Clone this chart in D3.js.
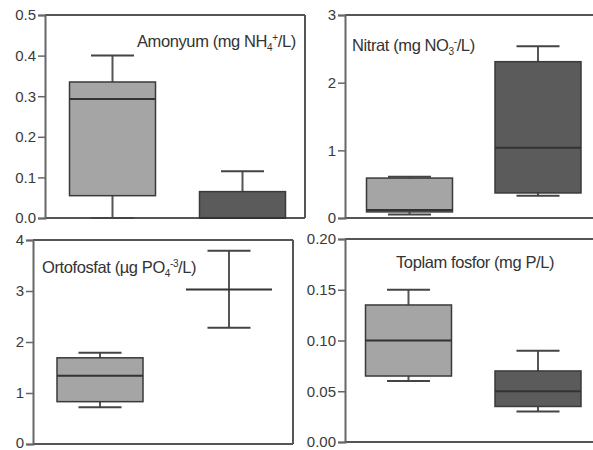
<!DOCTYPE html>
<html>
<head>
<meta charset="utf-8" />
<title>Box plots | D3</title>
<style>
body { margin: 0; background: white; }
svg text { font-family: "Liberation Sans", Arial, sans-serif; }
.tick text { font-size: 15px; fill: #3a3a3a; }
.title { font-size: 16.5px; fill: #333; letter-spacing: -0.4px; }
</style>
<script src="https://d3js.org/d3.v7.min.js"></script>
</head>
<body>
<script>
// two groups per panel, values are [min, q1, median, q3, max]
var groups = ["g1", "g2"];
var groupColors = ["#a5a5a5", "#5b5b5b"];

var amonyum = [[0, 0.055, 0.293, 0.335, 0.40], [0, 0, 0, 0.065, 0.115]];
var nitrat = [[0.05, 0.09, 0.12, 0.59, 0.61], [0.33, 0.37, 1.04, 2.31, 2.54]];
var ortofosfat = [[0.72, 0.83, 1.34, 1.69, 1.79], [2.28, 3.03, 3.03, 3.03, 3.79]];
var toplamFosfor = [[0.06, 0.065, 0.10, 0.135, 0.15], [0.03, 0.035, 0.05, 0.07, 0.09]];

var amonyumTicks = [0, 0.1, 0.2, 0.3, 0.4, 0.5];
var nitratTicks = [0, 1, 2, 3];
var ortofosfatTicks = [0, 1, 2, 3, 4];
var toplamTicks = [0, 0.05, 0.10, 0.15, 0.20];

var width = 593, height = 450;

var svg = d3.select("body").append("svg")
  .attr("width", width)
  .attr("height", height);

// panel layout
var panels = [
  { data: amonyum, ticks: amonyumTicks, fmt: ".1f", max: 0.5,
    left: 45, right: 305, top: 15, bottom: 218, c: [112.5, 242.5], frame: true,
    title: [["Amonyum (mg NH"], ["4", "sub"], ["+", "sup"], ["/L)"]], tx: 137, ty: 47 },
  { data: nitrat, ticks: nitratTicks, fmt: "d", max: 3,
    left: 345, right: 593, top: 15, bottom: 218, c: [409.5, 538], frame: false,
    title: [["Nitrat (mg NO"], ["3", "sub"], ["-", "sup"], ["/L)"]], tx: 352, ty: 51 },
  { data: ortofosfat, ticks: ortofosfatTicks, fmt: "d", max: 4,
    left: 33, right: 293, top: 240, bottom: 444, c: [100, 229], frame: true,
    title: [["Ortofosfat (\u00b5g PO"], ["4", "sub"], ["-3", "sup"], ["/L)"]], tx: 42, ty: 273 },
  { data: toplamFosfor, ticks: toplamTicks, fmt: ".2f", max: 0.2,
    left: 345, right: 593, top: 239, bottom: 442, c: [408.5, 538], frame: false,
    title: [["Toplam fosfor (mg P/L)"]], tx: 396, ty: 268 }
];

var boxW = 86, capW = 43;

panels.forEach(function(p) {
  var g = svg.append("g");

  var y = d3.scaleLinear().domain([0, p.max]).range([p.bottom, p.top]);
  var x = d3.scalePoint().domain(groups).range(p.c);

  // frame lines
  g.append("line").attr("x1", p.left).attr("x2", p.right)
    .attr("y1", p.top).attr("y2", p.top)
    .attr("stroke", "#555").attr("stroke-width", 2);
  g.append("line").attr("x1", p.left).attr("x2", p.right)
    .attr("y1", p.bottom).attr("y2", p.bottom)
    .attr("stroke", "#555").attr("stroke-width", 2);
  if (p.frame) {
    g.append("line").attr("x1", p.right).attr("x2", p.right)
      .attr("y1", p.top).attr("y2", p.bottom)
      .attr("stroke", "#555").attr("stroke-width", 2);
  }

  // boxes
  var b = g.selectAll(".box")
    .data(p.data)
    .enter().append("g").attr("class", "box");

  b.append("line")
    .attr("x1", function(d, i) { return x(groups[i]); })
    .attr("x2", function(d, i) { return x(groups[i]); })
    .attr("y1", function(d) { return y(d[4]); })
    .attr("y2", function(d) { return y(d[0]); })
    .attr("stroke", "#555").attr("stroke-width", 2);

  b.selectAll(".cap")
    .data(function(d, i) { return [[d[0], i], [d[4], i]]; })
    .enter().append("line")
    .attr("x1", function(d) { return x(groups[d[1]]) - capW / 2; })
    .attr("x2", function(d) { return x(groups[d[1]]) + capW / 2; })
    .attr("y1", function(d) { return y(d[0]); })
    .attr("y2", function(d) { return y(d[0]); })
    .attr("stroke", "#444").attr("stroke-width", 2);

  b.append("rect")
    .attr("x", function(d, i) { return x(groups[i]) - boxW / 2; })
    .attr("width", boxW)
    .attr("y", function(d) { return y(d[3]); })
    .attr("height", function(d) { return y(d[1]) - y(d[3]); })
    .attr("fill", function(d, i) { return groupColors[i]; })
    .attr("stroke", "#3a3a3a").attr("stroke-width", 1.5);

  b.append("line")
    .attr("x1", function(d, i) { return x(groups[i]) - boxW / 2; })
    .attr("x2", function(d, i) { return x(groups[i]) + boxW / 2; })
    .attr("y1", function(d) { return y(d[2]); })
    .attr("y2", function(d) { return y(d[2]); })
    .attr("stroke", "#333").attr("stroke-width", 2);

  // y axis
  var ax = g.append("g")
    .attr("transform", "translate(" + p.left + ",0)")
    .call(d3.axisLeft(y).tickValues(p.ticks).tickFormat(d3.format(p.fmt))
      .tickSize(7).tickPadding(2));
  ax.select(".domain").attr("stroke", "#666").attr("stroke-width", 2);
  ax.selectAll(".tick line").attr("stroke", "#666").attr("stroke-width", 1.5);
  ax.selectAll(".tick text").attr("font-size", null).attr("font-family", null);
  // keep the lowest label inside the page
  ax.selectAll(".tick text").filter(function(d) { return d === 0 && p.bottom > 443; })
    .attr("dy", "0.2em");

  // title with sub/superscripts
  var t = g.append("text").attr("class", "title")
    .attr("x", p.tx).attr("y", p.ty);
  p.title.forEach(function(part, k) {
    var s = t.append("tspan").text(part[0]);
    if (part[1] === "sub") s.attr("font-size", "10px").attr("dy", 4);
    if (part[1] === "sup") s.attr("font-size", "10px").attr("dy", -10);
    if (!part[1] && k > 0) s.attr("dy", 6);
  });
});
</script>
</body>
</html>
